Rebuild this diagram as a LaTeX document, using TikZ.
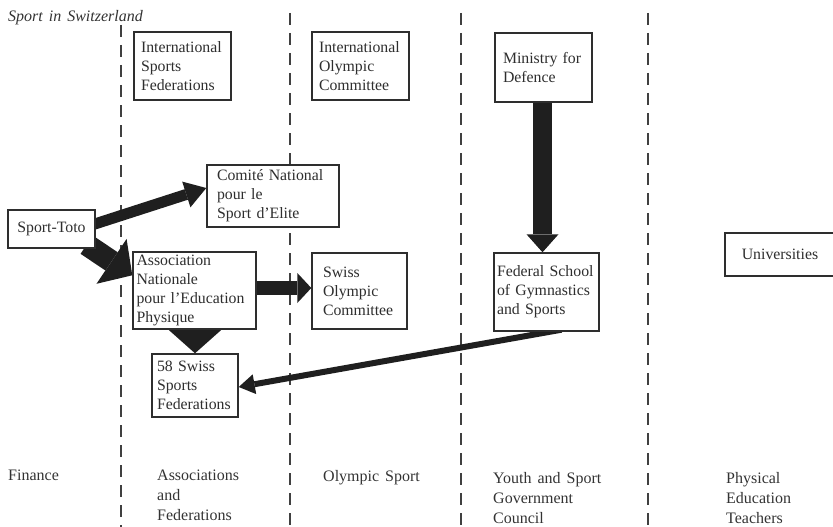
\documentclass[tikz,border=0pt]{standalone}
\usepackage{fontspec}
\setmainfont{Liberation Serif}
\usetikzlibrary{arrows.meta,calc}
\pgfdeclarelayer{bg}
\pgfdeclarelayer{mid}
\pgfsetlayers{bg,mid,main}
\newcommand{\wsp}{\hspace{6pt}}
\begin{document}
\begin{tikzpicture}[x=1pt,y=-1pt,
  box/.style={draw=black!82, line width=1.4pt, fill=white, text=black!82,
    font=\fontsize{15.8}{19}\selectfont, align=left, inner ysep=0pt},
  lab/.style={anchor=north west, inner sep=0pt, align=left, text=black!80,
    font=\fontsize{16}{20}\selectfont},
  sep/.style={draw=black!75, line width=1.3pt, dash pattern=on 12pt off 8pt},
  arr/.style={draw=black!88, line cap=butt},
]
\useasboundingbox (0,0) rectangle (833,527);

% title
\node[anchor=north west, inner sep=0pt, text=black!80,
  font=\itshape\fontsize{16}{18}\selectfont] (title) at (8,10)
  {Sport\wsp in\wsp Switzerland};

% boxes
\node[box, text width=83pt, inner xsep=7pt, minimum height=68pt] (isf) at (182.5,66)
  {International\\Sports\\Federations};
\node[box, text width=83pt, inner xsep=7pt, minimum height=68pt] (ioc) at (360.5,66)
  {International\\Olympic\\Committee};
\node[box, text width=81pt, inner xsep=8pt, minimum height=69pt] (mfd) at (543.5,67.5)
  {Ministry for\\Defence};
\node[box, text width=112pt, inner xsep=10pt, minimum height=62pt] (cn) at (273,196)
  {Comité National\\pour le\\Sport d’Elite};
\node[box, align=center, text width=79pt, inner xsep=4pt, minimum height=38pt] (st) at (51.5,229)
  {Sport-Toto};
\node[box, text width=116pt, inner xsep=3.5pt, minimum height=77pt] (anep) at (194.5,290.5)
  {Association\\Nationale\\pour l’Education\\Physique};
\node[box, text width=73pt, inner xsep=11pt, minimum height=76pt] (soc) at (359.5,291)
  {Swiss\\Olympic\\Committee};
\node[box, text width=76pt, inner xsep=5pt, minimum height=63pt] (ssf) at (195,385.5)
  {58 Swiss\\Sports\\Federations};
\node[box, text width=99pt, inner xsep=3pt, minimum height=78pt] (fsg) at (546.5,292)
  {Federal School\\of Gymnastics\\and Sports};
\node[box, align=center, text width=100pt, inner xsep=5pt, minimum height=43pt] (uni) at (780,254.5)
  {Universities};

% bottom labels
\node[lab] (fin) at (8,470) {Finance};
\node[lab] (assoc) at (157,470) {Associations\\and\\Federations};
\node[lab] (oly) at (323,470) {Olympic\wsp Sport};
\node[lab] (yth) at (493,472) {Youth\wsp and\wsp Sport\\Government\\Council};
\node[lab] (phys) at (726,472) {Physical\\Education\\Teachers};

% arrows
\begin{pgfonlayer}{mid}
\draw[arr, line width=11pt, -{Triangle[width=27pt,length=21pt,line width=0pt]}]
  ($(st.east)+(-4,-4)$) -- ($(cn.west)+(0,-8)$);
\draw[arr, line width=22pt, -{Triangle[width=54pt,length=25pt,line width=0pt]}]
  ($(st.south east)+(-9,-4)$) -- ($(anep.north west)+(0,24)$);
\draw[arr, line width=14pt, -{Triangle[width=30pt,length=14pt,line width=0pt]}]
  ($(anep.east)+(-2,-2.5)$) -- ($(soc.west)+(0,-3)$);
\draw[arr, line width=20pt, -{Triangle[width=54pt,length=24pt,line width=0pt]}]
  ($(anep.south)+(0.5,-1)$) -- (ssf.north);
\draw[arr, line width=19pt, -{Triangle[width=32pt,length=18pt,line width=0pt]}]
  ($(mfd.south)+(-1,-2)$) -- ($(fsg.north)+(-4,0)$);
\draw[arr, line width=6pt, -{Triangle[width=20pt,length=16pt,line width=0pt]}]
  ($(fsg.south)+(15,-2)$) -- ($(ssf.east)+(0,1.5)$);
\end{pgfonlayer}

% column separators
\begin{pgfonlayer}{bg}
\foreach \xx/\yy/\nn in {121/25/da,290/13/db,461/13/dc,648/13/dd}{
  \coordinate (\nn t) at (\xx,\yy);
  \coordinate (\nn b) at (\xx,527);
  \draw[sep] (\nn t) -- (\nn b);
}
\end{pgfonlayer}
\end{tikzpicture}
\end{document}
